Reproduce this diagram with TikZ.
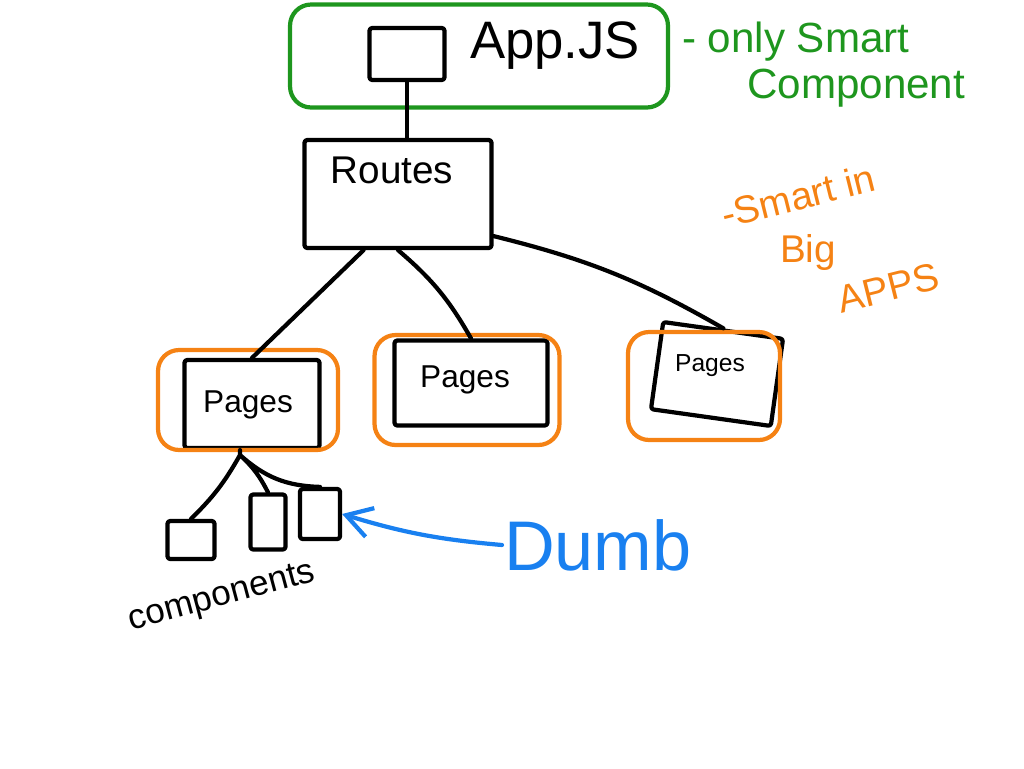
\documentclass[tikz,border=0pt]{standalone}
\usepackage{fontspec}
\setmainfont{Liberation Sans}
\usepackage{xcolor}
\usepackage{tikz}
\usetikzlibrary{arrows.meta,calc}

\definecolor{penGreen}{RGB}{30,150,30}
\definecolor{penOrange}{RGB}{245,130,20}
\definecolor{penBlue}{RGB}{25,128,240}

\begin{document}
\begin{tikzpicture}[x=0.02cm,y=-0.02cm,
                    line width=2.4pt,
                    line cap=round, line join=round,
                    box/.style n args={2}{draw=black,rectangle,
                    minimum width=#1cm, minimum height=#2cm,
                    rounded corners=1.5pt, inner sep=0pt},
                    grp/.style n args={3}{draw=#1,rectangle,
                    minimum width=#2cm, minimum height=#3cm,
                    rounded corners=12pt, inner sep=0pt},
                    lbl/.style={font=\fontsize{#1}{#1}\selectfont, inner sep=0pt}]
    \useasboundingbox (0,0) rectangle (1024,768);

    % app and routes
    \node[grp={penGreen}{7.56}{2.06}] (appgrp) at (479,56) {};
    \node[box={1.5}{1.04}] (app) at (407,54) {};
    \node[lbl=30, anchor=west] (apptxt) at (468,46) {App.JS};
    \node[box={3.74}{2.16}] (routes) at (398,194) {};
    \node[lbl=22] (routestxt) at (392,170) {Routes};
    \draw (app.south) -- (app.south |- routes.north);

    % pages
    \node[box={2.7}{1.76}] (p1) at (252,404) {};
    \node[grp={penOrange}{3.6}{2.0}] (g1) at (248,400) {};
    \node[lbl=18] (p1txt) at (248,405) {Pages};
    \node[box={3.06}{1.7}] (p2) at (471,383) {};
    \node[grp={penOrange}{3.7}{2.2}] (g2) at (467,390) {};
    \node[lbl=18] (p2txt) at (465,380) {Pages};
    \node[box={2.42}{1.76}, rotate=-8] (p3) at (717,374) {};
    \node[grp={penOrange}{3.04}{2.16}] (g3) at (704,386) {};
    \node[lbl=14] (p3txt) at (710,366) {Pages};
    \draw ($(routes.south west)!0.32!(routes.south east)$) -- (p1.north)
          (routes.south) to [bend left=10] (p2.north)
          ($(routes.south east)+(0,-14)$) to [bend left=8] (p3.north);

    % dumb components
    \node[box={0.94}{0.76}] (c1) at (191,540) {};
    \node[box={0.7}{1.1}] (c2) at (268,522) {};
    \node[box={0.8}{1.0}] (c3) at (320,514) {};
    \coordinate (fork) at (240,455);
    \draw (fork) -- (p1.south -| fork)
          (fork) to [bend left=8] (c1.north)
          (fork) to [bend left=10] (c2.north)
          (fork) to [bend right=20] (c3.north);
    \node[lbl=20, rotate=15] (comptxt) at (222,598) {components};

    % notes
    \node[lbl=24, text=penGreen, anchor=west] (note1) at (680,42) {- only Smart};
    \node[lbl=24, text=penGreen, anchor=west] (note2) at (745,88) {Component};
    \node[lbl=22, text=penOrange, rotate=14] (note3) at (798,196) {-Smart in};
    \node[lbl=22, text=penOrange] (note4) at (808,252) {Big};
    \node[lbl=22, text=penOrange, rotate=14] (note5) at (888,288) {APPS};
    \node[lbl=40, text=penBlue, anchor=west] (dumb) at (502,545) {Dumb};
    \draw[penBlue, -{Straight Barb[length=5mm,width=6mm]}] (dumb.west) to [bend left=6] (c3.east);

\end{tikzpicture}
\end{document}
